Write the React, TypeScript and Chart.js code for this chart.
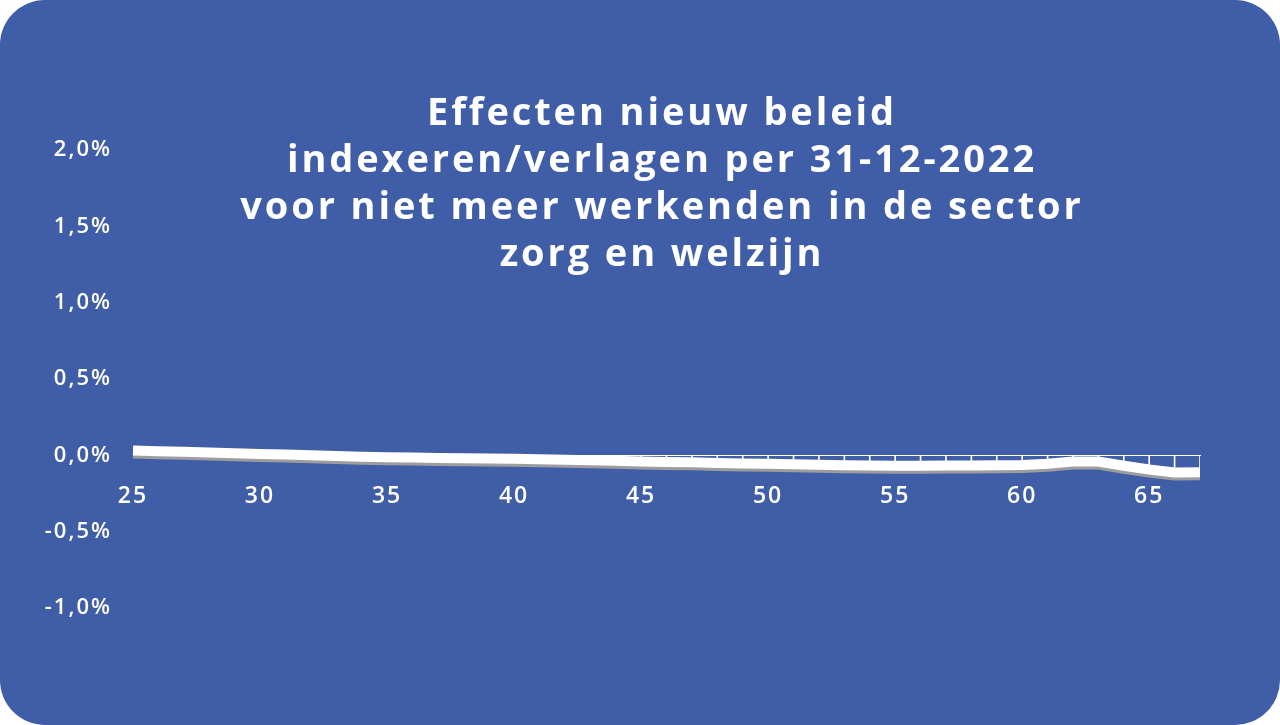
import React, { useEffect, useRef } from "react";
import { Chart, registerables } from "chart.js";
Chart.register(...registerables);

// leeftijden (x-as)
const ages = [
  "25", "26", "27", "28", "29", "30", "31", "32", "33", "34",
  "35", "36", "37", "38", "39", "40", "41", "42", "43", "44",
  "45", "46", "47", "48", "49", "50", "51", "52", "53", "54",
  "55", "56", "57", "58", "59", "60", "61", "62", "63", "64",
  "65", "66", "67",
];

// effect in procenten per leeftijd
const effect = [
  0.031, 0.027, 0.023, 0.019, 0.014, 0.009, 0.005, 0.001, -0.004, -0.009,
  -0.013, -0.015, -0.017, -0.019, -0.021, -0.023, -0.026, -0.029, -0.032, -0.036,
  -0.04, -0.043, -0.046, -0.05, -0.053, -0.055, -0.058, -0.062, -0.065, -0.067,
  -0.068, -0.068, -0.067, -0.066, -0.065, -0.063, -0.055, -0.04, -0.041, -0.068,
  -0.093, -0.113, -0.11,
];

const yMin = -1.0;
const yMax = 2.0;
const yStep = 0.5;
const xLabelEvery = 5;

const titleLines = [
  "Effecten nieuw beleid",
  "indexeren/verlagen per 31-12-2022",
  "voor niet meer werkenden in de sector",
  "zorg en welzijn",
];

const BLUE = "#405da8";
const FONT = "'Open Sans', 'DejaVu Sans', sans-serif";

// grijze onderrand onder de witte band (3D-effect)
const bandShadow = {
  id: "bandShadow",
  beforeDraw(chart: any) {
    chart.ctx.letterSpacing = "2px";
  },
  beforeDatasetsDraw(chart: any) {
    chart.ctx.letterSpacing = "0px";
  },
  beforeDatasetDraw(chart: any, args: any) {
    if (args.index !== 0) return;
    const ctx = chart.ctx;
    ctx.save();
    ctx.shadowColor = "#9d9d9d";
    ctx.shadowOffsetX = 0;
    ctx.shadowOffsetY = 3;
    ctx.shadowBlur = 0;
  },
  afterDatasetDraw(chart: any, args: any) {
    if (args.index !== 0) return;
    chart.ctx.restore();
  },
};

const EffectChart = () => {
  const canvasRef = useRef<HTMLCanvasElement>(null);

  useEffect(() => {
    const ctx = canvasRef.current!.getContext("2d")!;

    const config: any = {
      data: {
        labels: ages,
        datasets: [
          {
            type: "line",
            data: effect,
            borderColor: "#ffffff",
            borderWidth: 10,
            borderCapStyle: "butt",
            borderJoinStyle: "miter",
            tension: 0,
            pointRadius: 0,
            fill: false,
          },
          {
            type: "bar",
            data: effect,
            backgroundColor: "#ffffff",
            barThickness: 1,
            borderWidth: 0,
          },
        ],
      },
      options: {
        animation: false,
        responsive: true,
        maintainAspectRatio: false,
        layout: { padding: { top: 150, right: 80, bottom: 117, left: 0 } },
        scales: {
          x: {
            type: "category",
            position: { y: 0 },
            offset: false,
            grid: { display: false, drawTicks: false },
            border: { display: true, color: "#ffffff", width: 1 },
            ticks: {
              autoSkip: false,
              maxRotation: 0,
              padding: 27,
              color: "#ffffff",
              font: { family: FONT, size: 23, weight: "600" },
              callback: (_v: any, i: number) =>
                Number(ages[i]) % xLabelEvery === 0 ? ages[i] : "",
            },
          },
          y: {
            min: yMin,
            max: yMax,
            grid: { display: false, drawTicks: false },
            border: { display: false },
            afterFit: (scale: any) => {
              scale.width = 133;
            },
            ticks: {
              stepSize: yStep,
              padding: 21,
              color: "#ffffff",
              font: { family: FONT, size: 22, weight: "600" },
              callback: (v: any) => Number(v).toFixed(1).replace(".", ",") + "%",
            },
          },
        },
        plugins: {
          legend: { display: false },
          tooltip: { enabled: false },
          title: { display: false },
        },
      },
      plugins: [bandShadow],
    };

    const chart = new Chart(ctx, config);
    return () => chart.destroy();
  }, []);

  return (
    <div
      style={{
        position: "absolute",
        left: 0,
        top: 0,
        width: 1280,
        height: 725,
        background: "#ffffff",
      }}
    >
      <div
        style={{
          position: "absolute",
          inset: 0,
          background: BLUE,
          borderRadius: 45,
          overflow: "hidden",
        }}
      >
        <canvas ref={canvasRef}></canvas>
        <div
          style={{
            position: "absolute",
            left: 22,
            top: 87,
            width: 1280,
            textAlign: "center",
            color: "#ffffff",
            fontFamily: FONT,
            fontWeight: 700,
            fontSize: 38,
            lineHeight: "47px",
            letterSpacing: "2.9px",
            pointerEvents: "none",
          }}
        >
          {titleLines.map((l) => (
            <div key={l}>{l}</div>
          ))}
        </div>
      </div>
    </div>
  );
};

export default function App() {
  return <EffectChart />;
}
